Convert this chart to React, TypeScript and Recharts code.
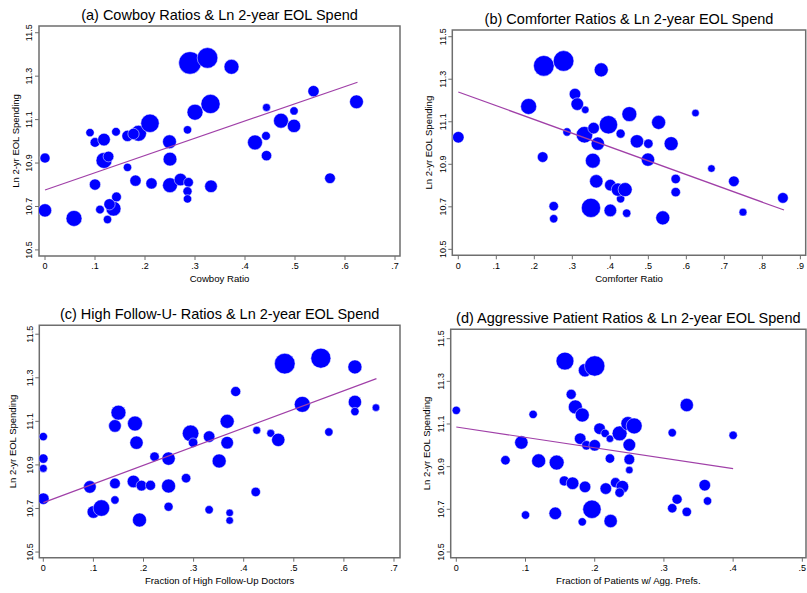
import { Label, ReferenceArea, Scatter, ScatterChart, XAxis, YAxis, ZAxis } from 'recharts';

const FONT = '"Liberation Sans", Arial, Helvetica, sans-serif';
const BLUE = '#0000ff';
const FIT = '#a040a8';
const FRAME = '#6e6e6e';

// y ticks shared by all four panels (Ln 2-yr EOL spending)
const yTicks = [10.5, 10.7, 10.9, 11.1, 11.3, 11.5];

// (a) Cowboy ratio
const aX = [0, 0, 0.058, 0.09, 0.1, 0.118, 0.118, 0.127, 0.142, 0.1, 0.11, 0.125, 0.137, 0.129, 0.143, 0.165, 0.165, 0.187, 0.177, 0.21, 0.181, 0.213, 0.249, 0.25, 0.25, 0.271, 0.287, 0.285, 0.285, 0.285, 0.29, 0.325, 0.373, 0.3, 0.331, 0.332, 0.42, 0.443, 0.442, 0.443, 0.472, 0.498, 0.498, 0.537, 0.57, 0.623];
const aY = [10.923, 10.682, 10.645, 11.04, 10.995, 11.008, 10.912, 10.93, 11.044, 10.801, 10.686, 10.64, 10.69, 10.71, 10.744, 10.88, 11.025, 11.037, 11.034, 11.083, 10.819, 10.806, 10.998, 10.918, 10.798, 10.824, 10.811, 11.053, 10.77, 10.735, 11.361, 11.384, 11.343, 11.134, 11.172, 10.793, 10.995, 11.156, 11.025, 10.934, 11.095, 11.14, 11.071, 11.231, 10.83, 11.182];
const aW = [1.6, 2.8, 4, 1.1, 1.5, 2.5, 4, 1.8, 1.2, 2, 1.2, 1.1, 3.5, 2, 1.5, 1.1, 2, 4, 2, 5.3, 2, 2, 3, 3, 3.5, 2.5, 1.5, 1.1, 1.3, 1.1, 8, 6.7, 3.5, 4, 5.8, 2.5, 3.5, 1, 1.2, 1.7, 3.5, 1.1, 2.8, 2, 1.8, 3];
const aFitX = [0, 0.625];
const aFitY = [10.776, 11.272];
const aTicks = [0, 0.1, 0.2, 0.3, 0.4, 0.5, 0.6, 0.7];

// (b) Comforter ratio
const bX = [0, 0.222, 0.225, 0.277, 0.185, 0.251, 0.251, 0.286, 0.307, 0.313, 0.334, 0.332, 0.356, 0.367, 0.354, 0.363, 0.349, 0.376, 0.395, 0.4, 0.4, 0.427, 0.427, 0.42, 0.439, 0.443, 0.45, 0.47, 0.5, 0.499, 0.527, 0.538, 0.56, 0.572, 0.572, 0.624, 0.666, 0.725, 0.749, 0.854];
const bY = [11.027, 10.934, 11.363, 11.386, 11.172, 10.703, 10.644, 11.052, 11.23, 11.183, 11.156, 11.039, 11.07, 10.997, 10.917, 10.82, 10.695, 11.344, 11.086, 10.802, 10.683, 11.044, 10.738, 10.781, 10.781, 10.67, 11.136, 11.008, 10.997, 10.922, 11.097, 10.648, 10.997, 10.831, 10.769, 11.141, 10.88, 10.82, 10.675, 10.742];
const bW = [2.1, 1.8, 6.7, 6.7, 4, 1.4, 1.1, 1.1, 2.1, 2.5, 0.9, 4.3, 2.1, 2.8, 3.5, 2.8, 5.8, 3.1, 5.3, 2.1, 2.5, 1.3, 1.1, 2.8, 3.1, 1.1, 3.5, 2.8, 1.4, 2.8, 3.1, 3.1, 3.1, 1.4, 1.4, 0.9, 0.9, 1.8, 1, 1.8];
const bFitX = [0, 0.857];
const bFitY = [11.24, 10.685];
const bTicks = [0, 0.1, 0.2, 0.3, 0.4, 0.5, 0.6, 0.7, 0.8, 0.9];

// (c) High follow-up doctors
const cX = [0, 0, 0, 0, 0.093, 0.1, 0.116, 0.143, 0.143, 0.143, 0.15, 0.183, 0.186, 0.18, 0.196, 0.214, 0.192, 0.222, 0.25, 0.25, 0.25, 0.285, 0.294, 0.299, 0.331, 0.331, 0.351, 0.367, 0.367, 0.372, 0.372, 0.384, 0.426, 0.424, 0.454, 0.469, 0.482, 0.517, 0.554, 0.57, 0.622, 0.622, 0.622, 0.664];
const cY = [11.03, 10.929, 10.884, 10.745, 10.799, 10.684, 10.702, 10.815, 10.739, 11.079, 11.14, 11.09, 11.002, 10.824, 10.805, 10.806, 10.647, 10.938, 10.929, 10.803, 10.708, 10.839, 11.045, 11.002, 11.03, 10.694, 10.918, 11.1, 11.002, 10.68, 10.645, 11.237, 11.059, 10.776, 11.045, 11.015, 11.365, 11.178, 11.39, 11.051, 11.35, 11.189, 11.145, 11.163];
const cW = [1.1, 1.4, 1, 2.1, 2.5, 2.5, 4.3, 1.8, 1.1, 2.5, 3.5, 3.5, 2.8, 2.5, 1.8, 1.6, 3.1, 1.4, 2.8, 3.1, 1.3, 1.4, 4.3, 1.4, 2.1, 1.1, 3.1, 3.1, 2.5, 0.9, 0.9, 1.6, 1, 1.4, 1, 2.8, 6.7, 4, 6.3, 1.1, 3.1, 2.8, 1.1, 0.9];
const cFitX = [0, 0.665];
const cFitY = [10.727, 11.296];
const cTicks = [0, 0.1, 0.2, 0.3, 0.4, 0.5, 0.6, 0.7];

// (d) Patients with aggressive preferences
const dX = [0, 0.071, 0.094, 0.1, 0.111, 0.119, 0.143, 0.145, 0.157, 0.156, 0.168, 0.166, 0.172, 0.182, 0.186, 0.2, 0.179, 0.188, 0.2, 0.186, 0.182, 0.196, 0.207, 0.215, 0.216, 0.222, 0.223, 0.222, 0.23, 0.236, 0.24, 0.236, 0.25, 0.248, 0.257, 0.25, 0.25, 0.312, 0.312, 0.319, 0.333, 0.333, 0.359, 0.363, 0.4];
const dY = [11.164, 10.93, 11.013, 10.673, 11.145, 10.927, 10.681, 10.919, 11.395, 10.833, 10.822, 11.239, 11.18, 11.142, 11.352, 11.372, 11.031, 11, 11, 10.805, 10.641, 10.7, 11.078, 11.056, 10.797, 10.938, 10.645, 11.031, 10.825, 11.056, 10.806, 10.778, 11.002, 11.102, 11.091, 10.934, 10.884, 10.705, 11.059, 10.747, 11.189, 10.688, 10.813, 10.739, 11.047];
const dW = [1.1, 1.4, 2.8, 1.1, 1.1, 3.1, 2.5, 3.5, 5, 1.6, 2.5, 1.6, 3.1, 3.1, 2.8, 6.5, 2.1, 1.4, 2.1, 2.1, 1.1, 5.3, 2.1, 1.1, 2.1, 1.4, 2.8, 0.9, 1.6, 3.5, 2.5, 1.4, 2.5, 3.1, 4, 1.8, 0.9, 1.4, 1.1, 1.6, 2.8, 1.4, 2.1, 1.1, 1.1];
const dFitX = [0, 0.4];
const dFitY = [11.086, 10.891];
const dTicks = [0, 0.1, 0.2, 0.3, 0.4, 0.5];

const zip = (xs: number[], ys: number[], ws?: number[]) =>
  xs.map((x, i) => (ws ? { x, y: ys[i], w: ws[i] } : { x, y: ys[i] }));

const fmtX = (v: number) => (v === 0 ? '0' : v.toFixed(1).replace(/^0/, ''));

const noShape = () => <g />;

interface Box {
  left: number;
  top: number;
  w: number;
  h: number;
}
interface PanelCfg {
  title: string;
  xLabel: string;
  xs: number[];
  ys: number[];
  ws: number[];
  fitX: number[];
  fitY: number[];
  xTicks: number[];
  xDomain: [number, number];
  yDomain: [number, number];
  box: Box;
  plot: { l: number; t: number; r: number; b: number };
  yTitleGap: number;
}

const panels: PanelCfg[] = [
  {
    title: '(a) Cowboy Ratios & Ln 2-year EOL Spend',
    xLabel: 'Cowboy Ratio',
    xs: aX, ys: aY, ws: aW, fitX: aFitX, fitY: aFitY, xTicks: aTicks,
    xDomain: [-0.012, 0.71],
    yDomain: [10.472, 11.531],
    box: { left: 0, top: 0, w: 404, h: 296 },
    plot: { l: 39, t: 26, r: 400, b: 256 },
    yTitleGap: 20,
  },
  {
    title: '(b) Comforter Ratios & Ln 2-year EOL Spend',
    xLabel: 'Comforter Ratio',
    xs: bX, ys: bY, ws: bW, fitX: bFitX, fitY: bFitY, xTicks: bTicks,
    xDomain: [-0.0158, 0.914],
    yDomain: [10.472, 11.5315],
    box: { left: 404, top: 0, w: 403, h: 296 },
    plot: { l: 452.3, t: 30, r: 805.7, b: 255.3 },
    yTitleGap: 20,
  },
  {
    title: '(c) High Follow-U- Ratios & Ln 2-year EOL Spend',
    xLabel: 'Fraction of High Follow-Up Doctors',
    xs: cX, ys: cY, ws: cW, fitX: cFitX, fitY: cFitY, xTicks: cTicks,
    xDomain: [-0.008, 0.712],
    yDomain: [10.474, 11.541],
    box: { left: 0, top: 296, w: 404, h: 297 },
    plot: { l: 39.3, t: 325.3, r: 400, b: 557.7 },
    yTitleGap: 23,
  },
  {
    title: '(d) Aggressive Patient Ratios & Ln 2-year EOL Spend',
    xLabel: 'Fraction of Patients w/ Agg. Prefs.',
    xs: dX, ys: dY, ws: dW, fitX: dFitX, fitY: dFitY, xTicks: dTicks,
    xDomain: [-0.0081, 0.5053],
    yDomain: [10.473, 11.544],
    box: { left: 404, top: 296, w: 403, h: 297 },
    plot: { l: 450.7, t: 329.3, r: 806, b: 557.7 },
    yTitleGap: 20.5,
  },
];

function YTick(props: any) {
  const { x, y, payload } = props;
  return (
    <text
      x={x}
      y={y}
      transform={`rotate(-90, ${x}, ${y})`}
      textAnchor="middle"
      fontSize={9}
      fontFamily={FONT}
      fill="#000"
    >
      {Number(payload.value).toFixed(1)}
    </text>
  );
}

function Panel({ cfg }: { cfg: PanelCfg }) {
  const { box, plot } = cfg;
  const lx = plot.l - box.left;
  const rx = plot.r - box.left;
  const ty = plot.t - box.top;
  const by = plot.b - box.top;
  const margin = { top: ty, right: box.w - rx, bottom: 0, left: 0 };
  const points = zip(cfg.xs, cfg.ys, cfg.ws);
  const fit = zip(cfg.fitX, cfg.fitY);

  return (
    <div style={{ position: 'absolute', left: box.left, top: box.top, width: box.w, height: box.h }}>
      <div
        style={{
          position: 'absolute',
          left: lx,
          width: rx - lx,
          top: ty - 6 - 12.3,
          fontSize: 14.5,
          lineHeight: 1,
          textAlign: 'center',
          whiteSpace: 'nowrap',
          color: '#000',
        }}
      >
        {cfg.title}
      </div>
      <ScatterChart width={box.w} height={box.h} margin={margin}>
        <XAxis
          type="number"
          dataKey="x"
          domain={cfg.xDomain}
          allowDataOverflow
          ticks={cfg.xTicks}
          interval={0}
          tickFormatter={fmtX}
          height={box.h - by}
          axisLine={false}
          tickSize={4}
          tickMargin={3}
          tickLine={{ stroke: FRAME }}
          tick={{ fontSize: 9, fill: '#000', fontFamily: FONT }}
        >
          <Label
            content={() => (
              <text
                x={(lx + rx) / 2}
                y={by + 19.5 + 6.9}
                textAnchor="middle"
                fontSize={9.6}
                fontFamily={FONT}
                fill="#000"
              >
                {cfg.xLabel}
              </text>
            )}
          />
        </XAxis>
        <YAxis
          type="number"
          dataKey="y"
          domain={cfg.yDomain}
          allowDataOverflow
          ticks={yTicks}
          interval={0}
          width={lx}
          axisLine={false}
          tickSize={4}
          tickMargin={2.5}
          tickLine={{ stroke: FRAME }}
          tick={<YTick />}
        >
          <Label
            content={() => {
              const x = lx - cfg.yTitleGap;
              const y = (ty + by) / 2;
              return (
                <text
                  x={x}
                  y={y}
                  transform={`rotate(-90, ${x}, ${y})`}
                  textAnchor="middle"
                  fontSize={9.5}
                  fontFamily={FONT}
                  fill="#000"
                >
                  Ln 2-yr EOL Spending
                </text>
              );
            }}
          />
        </YAxis>
        <ZAxis type="number" dataKey="w" domain={[0, 10]} range={[0, 500]} />
        <ReferenceArea
          x1={cfg.xDomain[0]}
          x2={cfg.xDomain[1]}
          y1={cfg.yDomain[0]}
          y2={cfg.yDomain[1]}
          fill="none"
          stroke={FRAME}
          strokeWidth={1.5}
          ifOverflow="visible"
        />
        <Scatter data={points} fill={BLUE} stroke="#ffffff" strokeWidth={0.5} isAnimationActive={false} />
        <Scatter
          data={fit}
          line={{ stroke: FIT, strokeWidth: 1.2 }}
          shape={noShape}
          isAnimationActive={false}
        />
      </ScatterChart>
    </div>
  );
}

export default function App() {
  return (
    <div
      style={{
        position: 'absolute',
        left: 0,
        top: 0,
        width: 807,
        height: 593,
        background: '#fff',
        fontFamily: FONT,
      }}
    >
      {panels.map((p) => (
        <Panel key={p.title} cfg={p} />
      ))}
    </div>
  );
}
